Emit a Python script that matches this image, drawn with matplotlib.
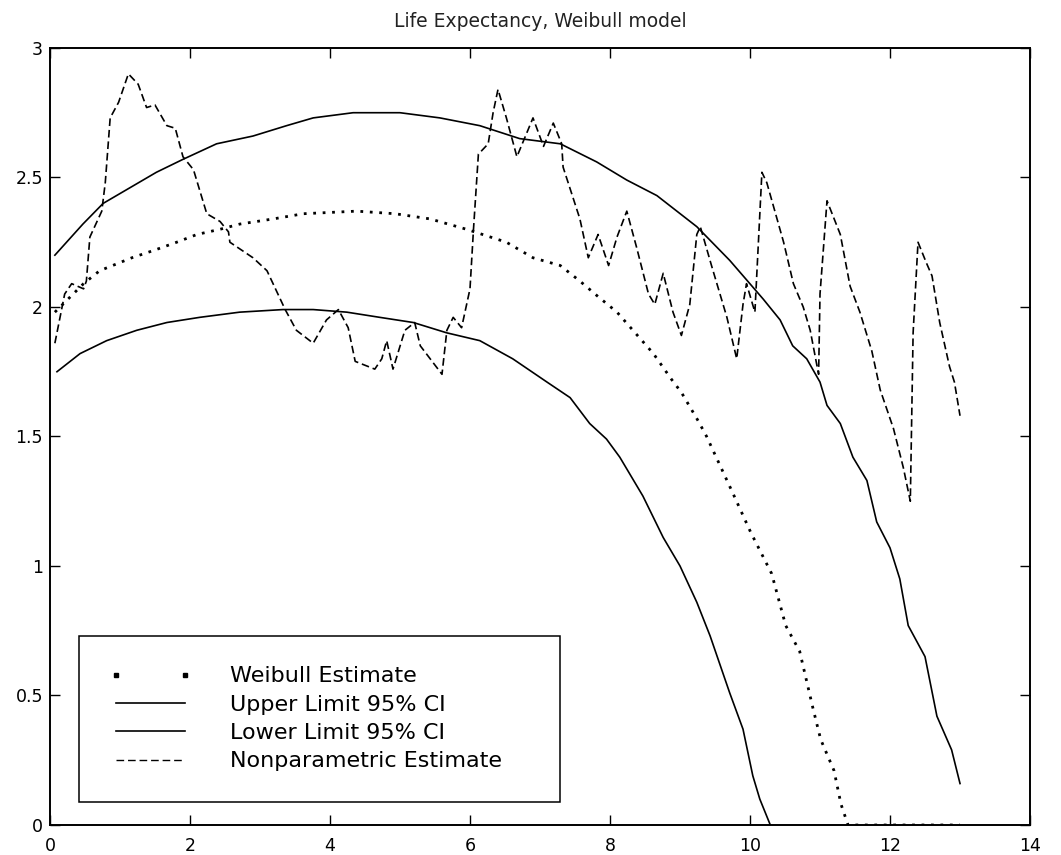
import matplotlib
matplotlib.use("Agg")
import matplotlib.pyplot as plt
from matplotlib.lines import Line2D

plt.rcParams['font.family'] = ['DejaVu Sans']
plt.rcParams['lines.scale_dashes'] = False

# Weibull fit (point estimate)
weib_x = [0.07, 0.48, 0.71, 1.17, 1.5, 1.81, 2.1, 2.43, 2.71, 3.19, 3.62, 4.38, 4.93, 5.43,
          5.95, 6.52, 6.9, 7.29, 7.57, 7.83, 8.1, 8.36, 8.62, 8.88, 9.02, 9.26, 9.38, 9.74,
          10.01, 10.31, 10.51, 10.71, 10.9, 11.01, 11.2, 11.3, 11.4, 13.0]
weib_y = [1.98, 2.09, 2.14, 2.19, 2.22, 2.25, 2.28, 2.30, 2.32, 2.34, 2.36, 2.37, 2.36, 2.34,
          2.30, 2.25, 2.19, 2.16, 2.10, 2.04, 1.98, 1.90, 1.82, 1.72, 1.67, 1.56, 1.50, 1.29,
          1.13, 0.97, 0.77, 0.67, 0.45, 0.33, 0.21, 0.08, 0.0, 0.0]

# upper 95% CI
upper_x = [0.07, 0.47, 0.76, 1.14, 1.52, 1.90, 2.38, 2.90, 3.38, 3.76, 4.33, 5.0, 5.57, 6.14,
           6.71, 7.29, 7.81, 8.24, 8.67, 9.24, 9.71, 10.19, 10.43, 10.61, 10.81, 11.0, 11.1,
           11.29, 11.47, 11.67, 11.81, 12.0, 12.14, 12.26, 12.5, 12.67, 12.88, 13.0]
upper_y = [2.20, 2.32, 2.40, 2.46, 2.52, 2.57, 2.63, 2.66, 2.70, 2.73, 2.75, 2.75, 2.73, 2.70,
           2.65, 2.63, 2.56, 2.49, 2.43, 2.31, 2.18, 2.03, 1.95, 1.85, 1.80, 1.71, 1.62,
           1.55, 1.42, 1.33, 1.17, 1.07, 0.95, 0.77, 0.65, 0.42, 0.29, 0.16]

# lower 95% CI
lower_x = [0.1, 0.43, 0.81, 1.24, 1.67, 2.14, 2.71, 3.33, 3.76, 4.24, 4.71, 5.19, 5.67, 6.14,
           6.61, 7.1, 7.43, 7.71, 7.95, 8.14, 8.47, 8.76, 9.0, 9.24, 9.43, 9.71, 9.9, 10.04,
           10.14, 10.29]
lower_y = [1.75, 1.82, 1.87, 1.91, 1.94, 1.96, 1.98, 1.99, 1.99, 1.98, 1.96, 1.94, 1.90, 1.87,
           1.80, 1.71, 1.65, 1.55, 1.49, 1.42, 1.27, 1.11, 1.0, 0.86, 0.73, 0.51, 0.37, 0.19,
           0.10, 0.0]

# nonparametric estimate
np_x = [0.07, 0.21, 0.31, 0.48, 0.52, 0.57, 0.74, 0.79, 0.86, 0.98, 1.12, 1.26, 1.38, 1.5,
        1.67, 1.79, 1.90, 2.05, 2.24, 2.43, 2.55, 2.57, 2.90, 3.10, 3.36, 3.52, 3.76, 3.95,
        4.12, 4.26, 4.36, 4.64, 4.74, 4.81, 4.90, 5.07, 5.21, 5.29, 5.60, 5.67, 5.76, 5.88,
        6.0, 6.05, 6.12, 6.26, 6.33, 6.40, 6.52, 6.67, 6.90, 7.05, 7.19, 7.31, 7.33, 7.45,
        7.57, 7.69, 7.83, 7.98, 8.10, 8.24, 8.38, 8.55, 8.64, 8.76, 8.90, 9.02, 9.14, 9.24,
        9.29, 9.45, 9.67, 9.81, 9.90, 9.95, 10.07, 10.17, 10.24, 10.48, 10.62, 10.76, 10.86,
        10.98, 11.0, 11.10, 11.29, 11.43, 11.57, 11.74, 11.86, 12.05, 12.19, 12.29, 12.33,
        12.40, 12.52, 12.60, 12.71, 12.85, 12.92, 13.0]
np_y = [1.86, 2.05, 2.09, 2.07, 2.10, 2.27, 2.37, 2.48, 2.73, 2.79, 2.90, 2.86, 2.77, 2.78,
        2.70, 2.69, 2.58, 2.53, 2.36, 2.33, 2.29, 2.25, 2.19, 2.14, 1.99, 1.91, 1.86, 1.95,
        1.99, 1.92, 1.79, 1.76, 1.80, 1.87, 1.76, 1.91, 1.94, 1.85, 1.74, 1.91, 1.96, 1.92,
        2.07, 2.30, 2.59, 2.63, 2.75, 2.84, 2.73, 2.58, 2.73, 2.62, 2.71, 2.63, 2.54, 2.44,
        2.34, 2.19, 2.28, 2.16, 2.27, 2.37, 2.23, 2.05, 2.01, 2.13, 1.98, 1.89, 2.01, 2.28,
        2.31, 2.16, 1.96, 1.80, 2.01, 2.09, 1.98, 2.52, 2.48, 2.25, 2.09, 2.00, 1.91,
        1.74, 2.05, 2.41, 2.28, 2.08, 1.98, 1.83, 1.68, 1.53, 1.38, 1.25, 1.90,
        2.25, 2.17, 2.12, 1.94, 1.77, 1.71, 1.58]

labels = ['Weibull Estimate', 'Upper Limit 95% CI', 'Lower Limit 95% CI', 'Nonparametric Estimate']
xticks = [0, 2, 4, 6, 8, 10, 12, 14]
yticks = [0, 0.5, 1, 1.5, 2, 2.5, 3]

fig = plt.figure(figsize=(10.61, 8.55), dpi=100)
ax = fig.add_axes([0.0471, 0.0351, 0.9237, 0.9088])

ax.plot(weib_x, weib_y, color='k', lw=2.0, ls=(0, (2.0, 4.8)), dash_capstyle='butt')
ax.plot(upper_x, upper_y, color='k', lw=1.2)
ax.plot(lower_x, lower_y, color='k', lw=1.2)
ax.plot(np_x, np_y, color='k', lw=1.2, ls=(0, (5.5, 2.8)), dash_capstyle='butt')

ax.set_xlim(0, 14)
ax.set_ylim(0, 3)
ax.set_xticks(xticks)
ax.set_xticklabels([str(t) for t in xticks])
ax.set_yticks(yticks)
ax.set_yticklabels(['0', '0.5', '1', '1.5', '2', '2.5', '3'])
ax.tick_params(direction='in', length=7, width=1.0, top=True, right=True, labelsize=12.5)
ax.tick_params(axis='x', pad=9)
ax.tick_params(axis='y', pad=5)
for s in ax.spines.values():
    s.set_linewidth(1.4)

ax.set_title('Life Expectancy, Weibull model', fontsize=13.5, pad=15, color='#222222')

# legend handles (weibull shows just two dots like the original)
handles = [
    Line2D([], [], ls='none', marker='s', markersize=2.4, color='k'),
    Line2D([], [], color='k', lw=1.2),
    Line2D([], [], color='k', lw=1.2),
    Line2D([], [], color='k', lw=1.0, ls=(0, (5.5, 2.8)), dash_capstyle='butt'),
]
leg = ax.legend(handles, labels, loc='lower left', bbox_to_anchor=(0.0296, 0.0296, 0.491, 0.2227),
                mode='expand', borderaxespad=0, fontsize=16, numpoints=2, handlelength=3.7,
                handletextpad=1.7, borderpad=1.38, labelspacing=0.375, fancybox=False,
                framealpha=1, edgecolor='k')
leg.get_frame().set_linewidth(1.1)

fig.savefig('out.png', dpi=100)
